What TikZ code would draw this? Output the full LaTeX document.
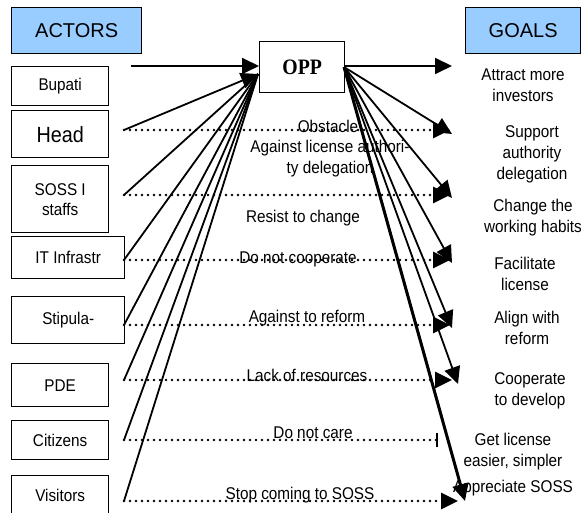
\documentclass[tikz,border=0pt]{standalone}
\usepackage{fontspec}
\setmainfont{Liberation Sans}[FakeStretch=0.9]
\newfontfamily\plainsans{Liberation Sans}
\newfontfamily\oppfont{Liberation Serif}[FakeStretch=0.9]
\usetikzlibrary{arrows.meta}
\definecolor{headblue}{RGB}{153,204,255}
\begin{document}
\begin{tikzpicture}[x=1pt,y=-1pt,
  box/.style={draw,line width=1.4pt,anchor=north west,inner sep=0pt,align=center,
    font=\fontsize{17}{20}\selectfont},
  title/.style={box,fill=headblue,font=\plainsans\fontsize{20}{24}\selectfont},
  txt/.style={align=center,inner sep=0pt,font=\fontsize{17}{21}\selectfont},
  link/.style={line width=1.8pt},
  dotlink/.style={line width=2.7pt,dash pattern=on 0pt off 6pt,line cap=round},
  bigtip/.style={-{Triangle[length=17pt,width=16pt]}},
]
\clip (0,0) rectangle (581,513);

% column headers
\node[title,minimum width=130pt,minimum height=46pt] (actors) at (11,7) {ACTORS};
\node[title,minimum width=115pt,minimum height=46pt] (goals) at (465,7) {GOALS};

% actors
\node[box,minimum width=97pt,minimum height=39pt] (bupati) at (11,66) {Bupati};
\node[box,minimum width=97pt,minimum height=47pt,font=\fontsize{22}{24}\selectfont] (head) at (11,110) {Head};
\node[box,minimum width=97pt,minimum height=67pt] (soss) at (11,165) {SOSS I\\staffs};
\node[box,minimum width=113pt,minimum height=42pt] (it) at (11,236) {IT Infrastr};
\node[box,minimum width=113pt,minimum height=47pt] (stip) at (11,296) {Stipula-};
\node[box,minimum width=97pt,minimum height=43pt] (pde) at (11,363) {PDE};
\node[box,minimum width=97pt,minimum height=39pt] (cit) at (11,420) {Citizens};
\node[box,minimum width=97pt,minimum height=40pt] (vis) at (11,475) {Visitors};

% obligatory passage point
\node[box,minimum width=85pt,minimum height=51pt,font=\oppfont\bfseries\fontsize{22}{24}\selectfont] (opp) at (259,41) {OPP};
\coordinate (oppin) at (258,74);
\coordinate (oppout) at (344,67);

% goals
\node[txt] (gAttract) at (523,85) {Attract more\\investors};
\node[txt] (gSupport) at (532,154) {Support\\authority\\delegation};
\node[txt] (gChange) at (533,218) {Change the\\working habits};
\node[txt] (gFac) at (525,274) {Facilitate\\license};
\node[txt] (gAlign) at (527,328) {Align with\\reform};
\node[txt] (gCoop) at (530,391) {Cooperate\\to develop};
\node[txt] (gGet) at (513,452) {Get license\\easier, simpler};
\node[txt] (gApp) at (513,488) {Appreciate SOSS};

% start points of actor lines
\coordinate (sBup) at (131,66);
\coordinate (sHead) at (124,130);
\coordinate (sSoss) at (124,195);
\coordinate (sIT) at (124,260);
\coordinate (sStip) at (124,325);
\coordinate (sPde) at (124,380);
\coordinate (sCit) at (124,440);
\coordinate (sVis) at (124,501);

% end points at the goals
\coordinate (tAttract) at (452,66);
\coordinate (tSupport) at (452,134);
\coordinate (tChange) at (452,198);
\coordinate (tFac) at (452,263);
\coordinate (tAlign) at (452,328);
\coordinate (tCoop) at (458,384);
\coordinate (tGet) at (443,421);
\coordinate (tApp) at (465,501);
\coordinate (dSupport) at (450,130);
\coordinate (dChange) at (450,195);
\coordinate (dFac) at (450,260);
\coordinate (dAlign) at (450,325);
\coordinate (dCoop) at (452,380);
\coordinate (dGet) at (437,440);
\coordinate (dApp) at (458,501);

% actors towards the OPP
\draw[link,bigtip] (sBup) -- (sBup -| opp.west);
\draw[link,bigtip] (sHead) -- (oppin);
\foreach \s in {sSoss,sIT,sStip,sPde,sCit,sVis}
  \draw[link] (\s) -- (oppin);

% OPP towards the goals
\draw[link,bigtip] (oppout |- tAttract) -- (tAttract);
\foreach \t in {tSupport,tChange,tFac,tAlign,tCoop}
  \draw[link,bigtip] (oppout) -- (\t);
\draw[link] (oppout) -- (tGet);
\draw[line width=3pt,bigtip] (oppout) -- (tApp);

% obstacles
\draw[dotlink,bigtip] (sHead) -- (dSupport);
\draw[dotlink,bigtip] (sSoss) -- (dChange);
\draw[dotlink,bigtip] (sIT) -- (dFac);
\draw[dotlink,bigtip] (sStip) -- (dAlign);
\draw[dotlink,bigtip] (sPde) -- (dCoop);
\draw[dotlink] (sCit) -- (dGet);
\draw[line width=1.8pt] ([yshift=-7pt]dGet) -- ([yshift=7pt]dGet);
\draw[dotlink,bigtip] (sVis) -- (dApp);

\node[txt] (oObst) at (328,126) {Obstacle};
\node[txt] (oLic) at (330,159) {Against license authori-\\ty delegation};
\node[txt] (oRes) at (303,218) {Resist to change};
\node[txt] (oCoop) at (298,259) {Do not cooperate};
\node[txt] (oRef) at (307,318) {Against to reform};
\node[txt] (oLack) at (307,375) {Lack of resources};
\node[txt] (oCare) at (313,433) {Do not care};
\node[txt] (oStop) at (300,495) {Stop coming to SOSS};
\end{tikzpicture}
\end{document}
